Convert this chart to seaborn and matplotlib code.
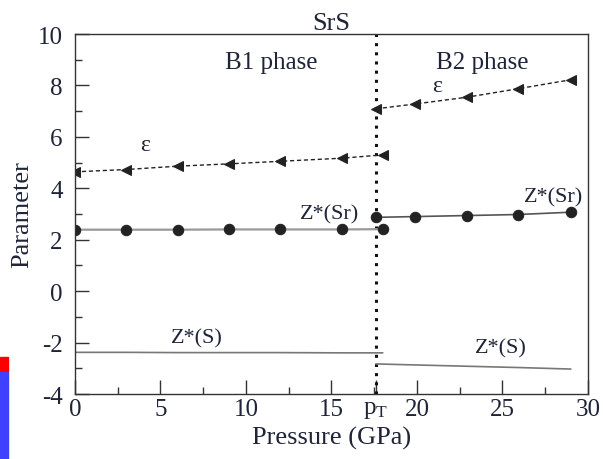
import matplotlib
matplotlib.use("Agg")
import matplotlib.pyplot as plt
import seaborn as sns
import pandas as pd
from matplotlib.patches import Rectangle
from matplotlib.ticker import MultipleLocator

sns.set_theme(style="ticks")
plt.rcParams["font.family"] = ["Liberation Serif", "DejaVu Serif"]
plt.rcParams["mathtext.fontset"] = "stix"
plt.rcParams["axes.unicode_minus"] = False

TXT = "#1f2438"
LINE = "#222222"

# Transition pressure (GPa)
p_T = 17.6

# B1 phase
p_b1 = [0, 3, 6, 9, 12, 15.6, 18]
eps_b1 = [4.64, 4.73, 4.86, 4.95, 5.05, 5.17, 5.30]
zsr_b1 = [2.39, 2.39, 2.39, 2.40, 2.40, 2.40, 2.41]
zs_b1 = [-2.38, -2.38, -2.39, -2.39, -2.39, -2.40, -2.40]

# B2 phase
p_b2 = [17.6, 19.9, 22.9, 25.9, 29.0]
eps_b2 = [7.09, 7.28, 7.54, 7.87, 8.22]
zsr_b2 = [2.87, 2.90, 2.94, 2.98, 3.07]
zs_b2 = [-2.83, -2.87, -2.92, -2.97, -3.03]

b1 = pd.DataFrame({"p": p_b1, "eps": eps_b1, "zsr": zsr_b1, "zs": zs_b1})
b2 = pd.DataFrame({"p": p_b2, "eps": eps_b2, "zsr": zsr_b2, "zs": zs_b2})

fig = plt.figure(figsize=(6.03, 4.60), dpi=100)
ax = fig.add_axes([0.1244, 0.1413, 0.8506, 0.7826])

for df in (b1, b2):
    sns.lineplot(data=df, x="p", y="eps", ax=ax, color=LINE, lw=1.0,
                 linestyle=(0, (3, 2)), marker="<", markersize=7.5,
                 markeredgecolor=LINE, markerfacecolor=LINE)
    sns.lineplot(data=df, x="p", y="zs", ax=ax, color="#777777", lw=1.2)

sns.lineplot(data=b1, x="p", y="zsr", ax=ax, color="#999999", lw=1.6,
             marker="o", markersize=7.5, markeredgecolor=LINE,
             markerfacecolor=LINE)
sns.lineplot(data=b2, x="p", y="zsr", ax=ax, color="#555555", lw=1.2,
             marker="o", markersize=7.5, markeredgecolor=LINE,
             markerfacecolor=LINE)

ax.axvline(p_T, color="#111111", lw=2.2, linestyle=(0, (1, 2)), zorder=1)

ax.set_xlim(0, 30)
ax.set_ylim(-4, 10)
ax.set_xticks([0, 5, 10, 15, p_T, 20, 25, 30])
ax.set_xticklabels(["0", "5", "10", "15", r"p$_\mathregular{T}$", "20", "25", "30"])
ax.xaxis.set_minor_locator(MultipleLocator(2.5))
ax.yaxis.set_major_locator(MultipleLocator(2))
ax.yaxis.set_minor_locator(MultipleLocator(1))
ax.tick_params(which="both", direction="in", top=False, right=False,
               colors="#333333", labelcolor=TXT, labelsize=18, width=1.0)
ax.tick_params(which="major", length=10)
ax.tick_params(axis="x", which="major", pad=3)
ax.tick_params(axis="y", which="major", pad=9)
ax.tick_params(which="minor", length=5)
for s in ax.spines.values():
    s.set_color("#333333")
    s.set_linewidth(1.0)

ax.set_xlabel("Pressure (GPa)", fontsize=19, color=TXT, labelpad=4)
ax.set_ylabel("Parameter", fontsize=19, color=TXT, labelpad=3)
ax.set_title("SrS", fontsize=19, color=TXT, pad=3)

kw = dict(color=TXT, ha="center", va="center")
ax.text(11.5, 8.9, "B1 phase", fontsize=18, **kw)
ax.text(23.8, 8.9, "B2 phase", fontsize=18, **kw)
ax.text(4.1, 5.7, "ε", fontsize=17, **kw)
ax.text(21.2, 8.0, "ε", fontsize=17, **kw)
ax.text(14.9, 3.0, "Z*(Sr)", fontsize=16, **kw)
ax.text(28.0, 3.65, "Z*(Sr)", fontsize=16, **kw)
ax.text(7.1, -1.8, "Z*(S)", fontsize=16, **kw)
ax.text(24.9, -2.2, "Z*(S)", fontsize=16, **kw)

# colour strip on the left edge
fig.patches.append(Rectangle((0, 1 - 373 / 460), 7.5 / 603, 15 / 460,
                             transform=fig.transFigure, color="#ff0000"))
fig.patches.append(Rectangle((0, 0), 7.5 / 603, 87 / 460,
                             transform=fig.transFigure, color="#4040ff"))

fig.savefig("out.png", dpi=100)
